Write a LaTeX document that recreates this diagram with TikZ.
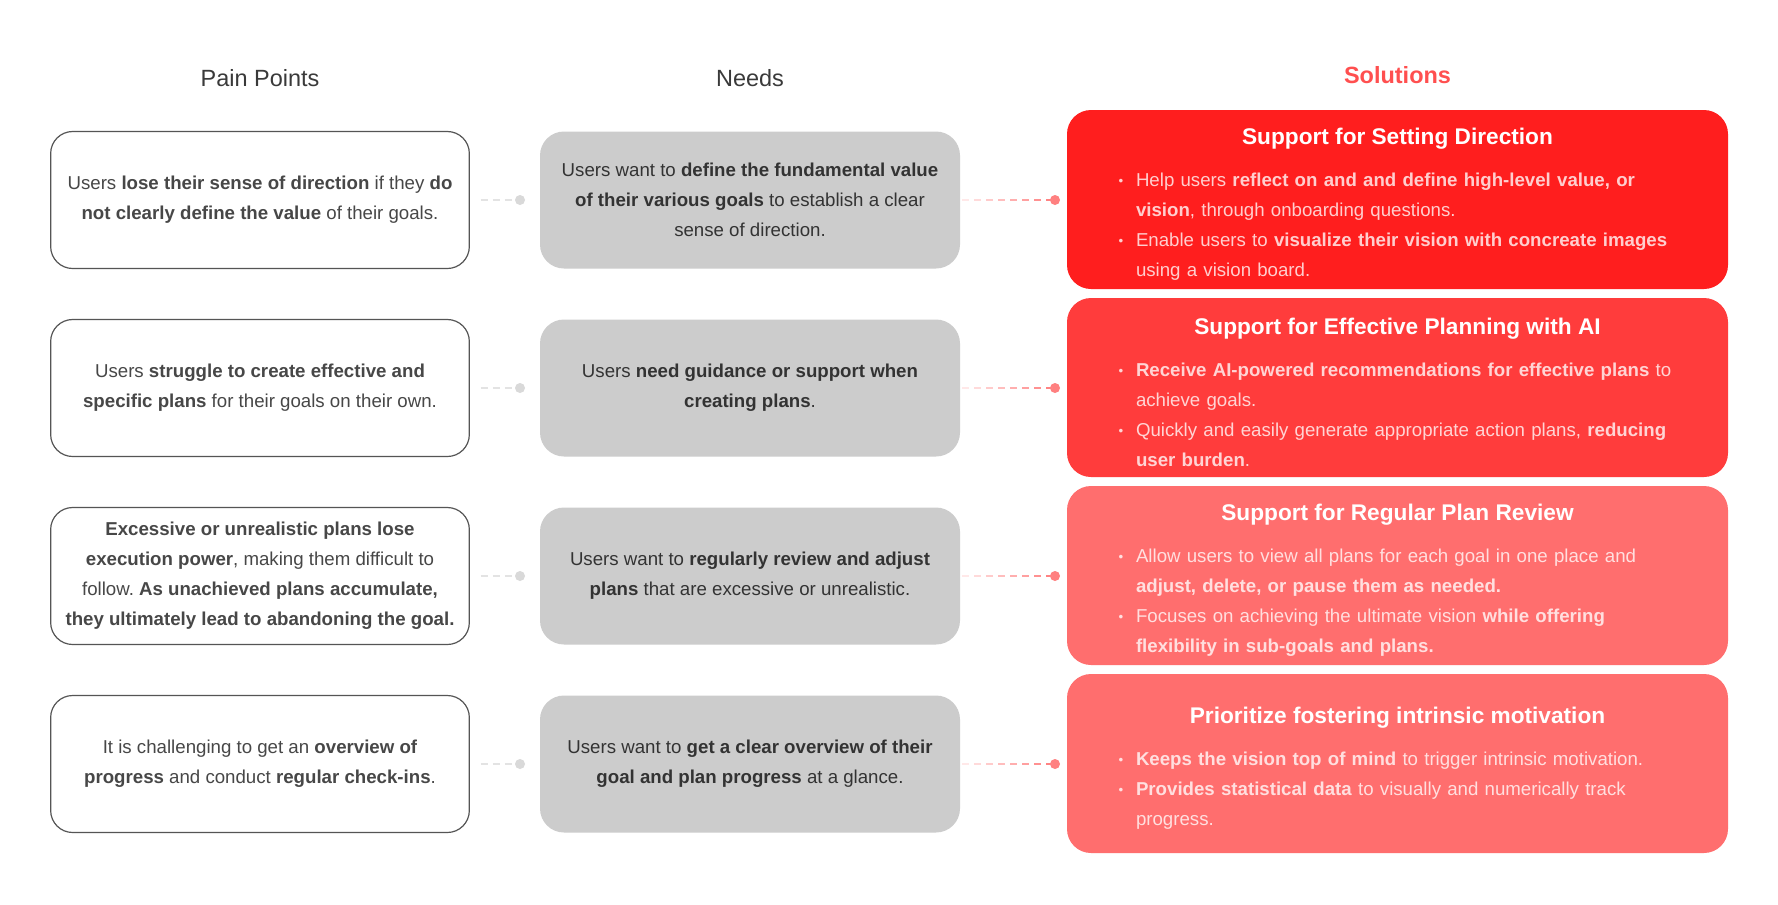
\documentclass[tikz,border=0pt]{standalone}
\usepackage{fontspec}
\setmainfont{Liberation Sans}
\usetikzlibrary{calc}
\frenchspacing
\definecolor{painborder}{HTML}{555555}
\definecolor{paintext}{HTML}{474747}
\definecolor{needfill}{HTML}{CCCCCC}
\definecolor{needtext}{HTML}{333333}
\definecolor{headtext}{HTML}{3A3A3A}
\definecolor{solA}{HTML}{FF1E1E}
\definecolor{solB}{HTML}{FF3C3C}
\definecolor{solC}{HTML}{FF6E6E}
\definecolor{solD}{HTML}{FF6E6E}
\definecolor{soltitle}{HTML}{FF4F4F}
\definecolor{greydot}{HTML}{D9D9D9}
\definecolor{greydash}{HTML}{E3E3E3}
\definecolor{pinkdot}{HTML}{FF8080}
\newcommand{\bitem}[1]{{\par\leftskip=19.5pt\noindent\llap{\makebox[19.5pt][l]{\hspace{6.5pt}\raisebox{0.5pt}{\fontsize{10}{10}\selectfont\textbullet}}}#1\par}}
\newcommand{\shead}[1]{{\centering\color{white}\fontsize{17}{20}\selectfont\bfseries #1\par}\vspace{9pt}}
\begin{document}
\begin{tikzpicture}[x=0.75pt,y=-0.75pt,
  header/.style={font=\fontsize{17.6}{20}\selectfont, text=headtext, inner sep=0pt},
  painbox/.style={draw=painborder, line width=0.9pt, rounded corners=16.5pt, minimum width=314pt, minimum height=102.75pt, align=center, text=paintext, font=\fontsize{14}{22.5}\selectfont, inner sep=0pt},
  needbox/.style={fill=needfill, rounded corners=18pt, minimum width=315pt, minimum height=102.75pt, align=center, text=needtext, font=\fontsize{14}{22.5}\selectfont, inner sep=0pt},
  solbox/.style={fill=#1, rounded corners=18pt, minimum width=495.75pt, minimum height=134.25pt, text width=431.25pt, inner xsep=32.25pt, inner ysep=0pt, align=left, text=white!78!#1, font=\fontsize{14}{22.5}\selectfont},
  gdot/.style={circle, fill=greydot, minimum size=7.5pt, inner sep=0pt},
  pdot/.style={circle, fill=pinkdot, minimum size=7.5pt, inner sep=0pt},
  gdash/.style={draw=greydash, line width=1.4pt, dash pattern=on 5.25pt off 3.75pt}
]
\useasboundingbox (0,0) rectangle (1778,904);
\fill[white] (0,0) rectangle (1778,904);

% headers
\node[header] (hpain) at (260,78.5) {Pain Points};
\node[header] (hneed) at (750,78.5) {Needs};
\node[header, text=soltitle, font=\fontsize{17.6}{20}\selectfont\bfseries] (hsol) at (1397.5,75) {Solutions};

% pain points
\node[painbox] (p1) at (260,200) {Users \textbf{lose their sense of direction} if they \textbf{do}\\\textbf{not clearly define the value} of their goals.};
\node[painbox] (p2) at (260,388) {Users \textbf{struggle to create effective and}\\\textbf{specific plans} for their goals on their own.};
\node[painbox] (p3) at (260,576) {\textbf{Excessive or unrealistic plans lose}\\\textbf{execution power}, making them difficult to\\follow. \textbf{As unachieved plans accumulate,}\\\textbf{they ultimately lead to abandoning the goal.}};
\node[painbox] (p4) at (260,764) {It is challenging to get an \textbf{overview of}\\\textbf{progress} and conduct \textbf{regular check-ins}.};

% needs
\node[needbox] (n1) at (750,200) {Users want to \textbf{define the fundamental value}\\\textbf{of their various goals} to establish a clear\\sense of direction.};
\node[needbox] (n2) at (750,388) {Users \textbf{need guidance or support when}\\\textbf{creating plans}.};
\node[needbox] (n3) at (750,576) {Users want to \textbf{regularly review and adjust}\\\textbf{plans} that are excessive or unrealistic.};
\node[needbox] (n4) at (750,764) {Users want to \textbf{get a clear overview of their}\\\textbf{goal and plan progress} at a glance.};

% solutions
\node[solbox=solA] (s1) at (1397.5,199.5) {\shead{Support for Setting Direction}%
\bitem{Help users \textbf{reflect on and and define high-level value, or}\\\textbf{vision}, through onboarding questions.}%
\bitem{Enable users to \textbf{visualize their vision with concreate images}\\using a vision board.}\vspace{-7pt}};
\node[solbox=solB] (s2) at (1397.5,387.5) {\shead{Support for Effective Planning with AI}%
\bitem{\textbf{Receive AI-powered recommendations for effective plans} to\\achieve goals.}%
\bitem{Quickly and easily generate appropriate action plans, \textbf{reducing}\\\textbf{user burden}.}\vspace{-7pt}};
\node[solbox=solC] (s3) at (1397.5,575.5) {\shead{Support for Regular Plan Review}%
\bitem{Allow users to view all plans for each goal in one place and\\\textbf{adjust, delete, or pause them as needed.}}%
\bitem{Focuses on achieving the ultimate vision \textbf{while offering}\\\textbf{flexibility in sub-goals and plans.}}\vspace{-7pt}};
\node[solbox=solD] (s4) at (1397.5,763.5) {\shead{Prioritize fostering intrinsic motivation}%
\bitem{\textbf{Keeps the vision top of mind} to trigger intrinsic motivation.}%
\bitem{\textbf{Provides statistical data} to visually and numerically track\\progress.}\vspace{-7pt}};

% connectors
\foreach \r/\yy in {1/200,2/388,3/576,4/764}{
  \node[gdot] (gd\r) at (520,\yy) {};
  \node[pdot] (pd\r) at (1055,\yy) {};
  \draw[gdash] ($(p\r.east)+(11,0)$) -- (gd\r.west);
  \foreach \k in {0,...,7}{
    \pgfmathsetmacro{\pc}{int(18+11.5*\k)}
    \draw[draw=pinkdot!\pc!white, line width=1.4pt] ($(n\r.east)+(2+12*\k,0)$) -- ++(7,0);
  }
}
\end{tikzpicture}
\end{document}
